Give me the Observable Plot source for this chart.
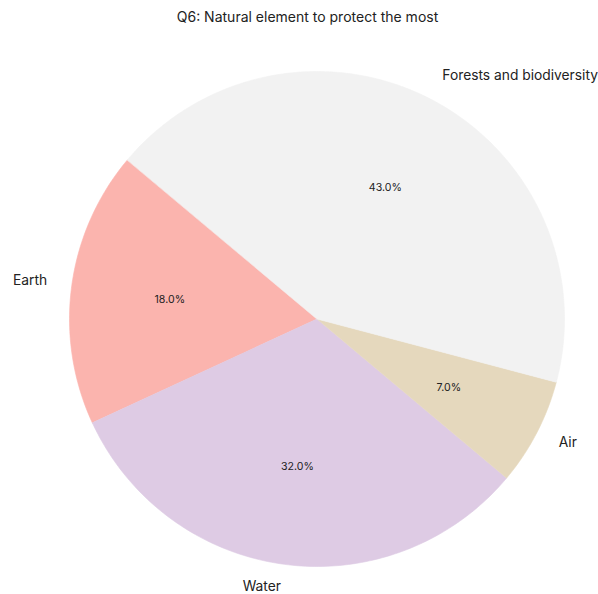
<!DOCTYPE html>
<html>
<head>
<meta charset="utf-8">
<script src="https://cdn.jsdelivr.net/npm/d3@7"></script>
<script src="https://cdn.jsdelivr.net/npm/@observablehq/plot@0.6"></script>
<style>
  html, body { margin: 0; padding: 0; background: #fff; }
</style>
</head>
<body>
<div id="chart"></div>
<script>
const title = "Q6: Natural element to protect the most";
const categories = ["Earth", "Water", "Air", "Forests and biodiversity"];
const shares = [18, 32, 7, 43];
const colors = ["#fbb4ae", "#decbe4", "#e5d8bd", "#f2f2f2"];
const startAngle = 140; // degrees, counter-clockwise from east

// layout
const W = 598, H = 594, cx = 316.5, cy = 318.5, R = 247.5;

const total = d3.sum(shares);
const ends = d3.cumsum(shares);
const slices = categories.map((name, i) => {
  const a0 = startAngle + (ends[i] - shares[i]) / total * 360;
  const a1 = startAngle + ends[i] / total * 360;
  return {name, value: shares[i], a0, a1, mid: (a0 + a1) / 2};
});

const rad = d => d * Math.PI / 180;
const outline = [];
for (const s of slices) {
  outline.push({name: s.name, x: 0, y: 0});
  const n = Math.max(2, Math.ceil(s.a1 - s.a0));
  for (let k = 0; k <= n; ++k) {
    const a = rad(s.a0 + (s.a1 - s.a0) * k / n);
    outline.push({name: s.name, x: Math.cos(a), y: Math.sin(a)});
  }
}

const labels = slices.map(s => ({name: s.name, x: 1.1 * Math.cos(rad(s.mid)), y: 1.1 * Math.sin(rad(s.mid))}));
const pcts = slices.map(s => ({text: (s.value / total * 100).toFixed(1) + "%", x: 0.6 * Math.cos(rad(s.mid)), y: 0.6 * Math.sin(rad(s.mid))}));

const font = "Inter, 'Open Sans', sans-serif";

const chart = Plot.plot({
  width: W,
  height: H,
  margin: 0,
  style: {fontFamily: font, background: "#fff"},
  x: {domain: [-1, 1], range: [cx - R, cx + R], axis: null},
  y: {domain: [-1, 1], range: [cy + R, cy - R], axis: null},
  color: {domain: categories, range: colors},
  marks: [
    Plot.line(outline, {x: "x", y: "y", z: "name", fill: "name", stroke: "name", strokeWidth: 0.6, curve: "linear-closed"}),
    Plot.text(labels.filter(d => d.x > 0), {x: "x", y: "y", text: "name", textAnchor: "start", dy: -2, fontSize: 13.8, fill: "#222"}),
    Plot.text(labels.filter(d => d.x <= 0), {x: "x", y: "y", text: "name", textAnchor: "end", dy: -2, fontSize: 13.8, fill: "#222"}),
    Plot.text(pcts, {x: "x", y: "y", text: "text", fontSize: 10.6, fill: "#222"}),
    Plot.text([title], {frameAnchor: "top", lineAnchor: "middle", dy: 17, dx: 8, text: d => d, fontSize: 14, fill: "#222"})
  ]
});
document.getElementById("chart").appendChild(chart);
</script>
</body>
</html>
